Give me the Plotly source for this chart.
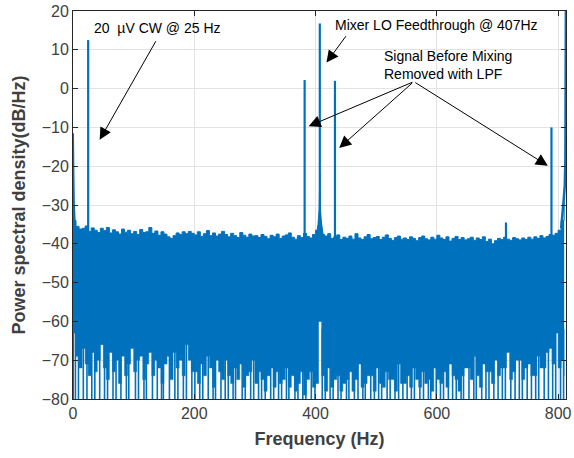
import numpy as np
import plotly.graph_objects as go

BLUE = "#0072BD"
INK = "#262626"

# noise floor, sampled every 5 Hz (0 .. 810 Hz)
band_f = np.arange(0, 811, 5)
band_top = [
    -34.0, -35.5, -36.2, -36.0, -35.4, -36.8, -35.9, -36.5, -37.1, -36.0,
    -36.6, -35.8, -37.2, -36.4, -36.9, -37.5, -36.2, -37.0, -36.5, -37.4,
    -36.8, -37.6, -36.3, -37.1, -36.9, -35.8, -37.3, -36.7, -37.8, -36.9,
    -37.5, -38.2, -38.6, -37.9, -37.2, -37.6, -36.9, -37.4, -36.8, -37.3,
    -37.7, -36.9, -38.1, -37.4, -36.6, -37.9, -37.2, -38.0, -37.5, -36.8,
    -37.6, -38.2, -37.3, -37.9, -38.4, -37.1, -37.8, -38.3, -37.5, -38.0,
    -37.9, -38.4, -37.6, -38.1, -38.7, -37.8, -38.2, -37.5, -38.6, -38.0,
    -37.7, -37.2, -38.3, -38.8, -37.9, -38.4, -37.3, -38.1, -38.5, -37.6,
    -36.5, -35.0, -37.6, -38.0, -37.4, -38.6, -38.2, -37.7, -38.9, -38.3,
    -38.6, -38.0, -38.8, -37.4, -38.5, -38.9, -38.2, -37.6, -38.7, -38.4,
    -38.1, -38.9, -38.3, -37.7, -38.6, -39.1, -38.4, -38.0, -38.8, -38.5,
    -38.9, -38.2, -38.6, -39.2, -38.4, -38.0, -38.7, -39.0, -38.3, -38.8,
    -37.8, -38.5, -38.9, -38.2, -39.3, -38.6, -38.1, -38.9, -38.4, -39.0,
    -38.7, -38.3, -39.1, -38.5, -38.9, -38.2, -39.4, -38.8, -40.0, -39.2,
    -38.6, -38.9, -38.3, -38.8, -39.1, -38.4, -38.7, -39.0, -38.5, -38.9,
    -38.3, -38.8, -38.2, -38.6, -37.9, -38.5, -38.1, -37.6, -37.8, -37.3,
    -36.5, -34.0, -29.0,
]
band_bottom = [
    -63, -69, -72, -67, -71, -74, -68, -73, -70, -66,
    -72, -75, -68, -73, -70, -76, -69, -74, -71, -67,
    -73, -70, -69, -75, -71, -68, -74, -70, -72, -76,
    -71, -69, -75, -68, -72, -70, -74, -66, -70, -73,
    -73, -76, -71, -74, -69, -72, -77, -70, -73, -75,
    -70, -74, -76, -72, -75, -71, -77, -74, -73, -70,
    -76, -73, -75, -78, -74, -72, -77, -73, -76, -75,
    -72, -77, -74, -78, -76, -73, -79, -75, -73, -77,
    -76, -60, -74, -78, -72, -77, -75, -74, -78, -76,
    -75, -73, -78, -75, -71, -77, -76, -74, -74, -78,
    -72, -76, -77, -73, -75, -75, -78, -71, -76, -76,
    -74, -77, -72, -75, -77, -73, -76, -75, -78, -72,
    -75, -76, -73, -77, -71, -74, -75, -78, -74, -72,
    -72, -75, -69, -74, -77, -71, -73, -73, -76, -70,
    -74, -72, -72, -68, -75, -73, -70, -70, -75, -72,
    -71, -74, -74, -69, -72, -72, -68, -67, -71, -63,
    -72, -70, -74,
]

# bins where the noise drops to the bottom of the axis
dip_f = [4, 9, 17, 23, 31, 36, 44, 52, 57, 66, 71, 79, 88, 92, 103, 108, 117, 121,
         131, 139, 146, 149, 159, 168, 173, 182, 187, 196, 201, 209, 214, 223, 231,
         235, 244, 251, 256, 264, 268, 279, 284, 293, 298, 306, 311, 317, 326, 331,
         339, 344, 352, 356, 366, 371, 379, 384, 393, 399, 411, 416, 424, 429, 437,
         442, 451, 455, 464, 470, 478, 482, 491, 497, 504, 509, 518, 523, 531, 537,
         544, 551, 558, 563, 572, 578, 586, 590, 599, 606, 611, 619, 626, 632, 640,
         644, 653, 661, 665, 674, 681, 686, 694, 701, 708, 713, 722, 729, 736, 741,
         749, 756, 763, 768, 777, 784, 791, 796, 804, 809]

# DC bin and the rise at the top of the band
left_f = [0, 0, 0.8, 1.5, 2.2, 3.0]
left_db = [-80, -11.5, -23, -30, -33, -35]
right_f = [805, 807, 809, 811, 812, 813]
right_db = [-36, -33, -29, -25, -18, 30]

# skirt of the LO feedthrough
skirt_f = [401, 404, 406, 407, 408, 410, 413]
skirt_db = [-38, -35, -31, -22, -31, -35, -38]

# tones
peak_f = [25, 382, 407, 432, 714, 789]
peak_db = [12.5, 2.2, 16.8, 2.0, -34.5, -10.0]

fig = go.Figure()
fig.add_trace(go.Scatter(x=band_f, y=band_bottom, mode="lines", line_shape="hv",
                         line=dict(color=BLUE, width=0.5)))
fig.add_trace(go.Scatter(x=band_f, y=band_top, mode="lines", line_shape="hv",
                         line=dict(color=BLUE, width=1), fill="tonexty", fillcolor=BLUE))

dx, dy = [], []
for f in dip_f:
    dx += [f, f, None]
    dy += [-62, -80, None]
fig.add_trace(go.Scatter(x=dx, y=dy, mode="lines", line=dict(color=BLUE, width=1.6)))

fig.add_trace(go.Scatter(x=skirt_f, y=skirt_db, mode="lines", fill="toself",
                         fillcolor=BLUE, line=dict(color=BLUE, width=1)))
fig.add_trace(go.Scatter(x=left_f, y=left_db, mode="lines", line=dict(color=BLUE, width=2)))
fig.add_trace(go.Scatter(x=right_f, y=right_db, mode="lines", line=dict(color=BLUE, width=2.5)))

px, py = [], []
for f, db in zip(peak_f, peak_db):
    px += [f, f, None]
    py += [-40, db, None]
fig.add_trace(go.Scatter(x=px, y=py, mode="lines", line=dict(color=BLUE, width=2.2)))

font = "Liberation Sans, Arial, sans-serif"
axis = dict(showline=True, mirror="ticks", linecolor=INK, linewidth=1,
            ticks="inside", ticklen=5, tickcolor=INK,
            showgrid=True, gridcolor="#e3e3e3", gridwidth=1, zeroline=False,
            ticklabeloverflow="allow",
            tickfont=dict(family=font, size=16, color="#404040"))

fig.update_layout(
    width=574, height=458, showlegend=False,
    margin=dict(l=73, r=3, t=8, b=59),
    plot_bgcolor="white", paper_bgcolor="white",
    xaxis=dict(axis, range=[0, 813], tickvals=[0, 200, 400, 600, 800],
               title=dict(text="<b>Frequency (Hz)</b>", standoff=11,
                          font=dict(family=font, size=18, color="#404040"))),
    yaxis=dict(axis, range=[-80, 20], dtick=10,
               title=dict(text="<b>Power spectral density(dB/Hz)</b>", standoff=11,
                          font=dict(family=font, size=18, color="#404040"))),
)

txt = dict(family=font, size=14, color="black")
fig.add_annotation(x=31, y=15.7, text="20  \u00b5V CW @ 25 Hz", showarrow=False,
                   xanchor="left", yanchor="middle", font=txt)
fig.add_annotation(x=428, y=16.4, text="Mixer LO Feedthrough @ 407Hz", showarrow=False,
                   xanchor="left", yanchor="middle", font=txt)
fig.add_annotation(x=509, y=6.1, text="Signal Before Mixing<br>Removed with LPF",
                   showarrow=False, xanchor="left", yanchor="middle", align="left", font=txt)

arrows = [
    ((138, 12.6), (44, -13.2)),
    ((452, 13.9), (418, 6.7)),
    ((562, 1.8), (388.6, -9.7)),
    ((562, 1.8), (439, -15.3)),
    ((562, 1.8), (783, -19.9)),
]
for (tx, ty), (hx, hy) in arrows:
    fig.add_annotation(x=hx, y=hy, ax=tx, ay=ty, axref="x", ayref="y", text="",
                       showarrow=True, arrowhead=2, arrowsize=2.4, arrowwidth=1,
                       arrowcolor="black", standoff=0)

# the page's default body margin would push the figure 8px right and down
fig.write_html("out.html", config={"displayModeBar": False},
               post_script="document.body.style.margin='0';")
